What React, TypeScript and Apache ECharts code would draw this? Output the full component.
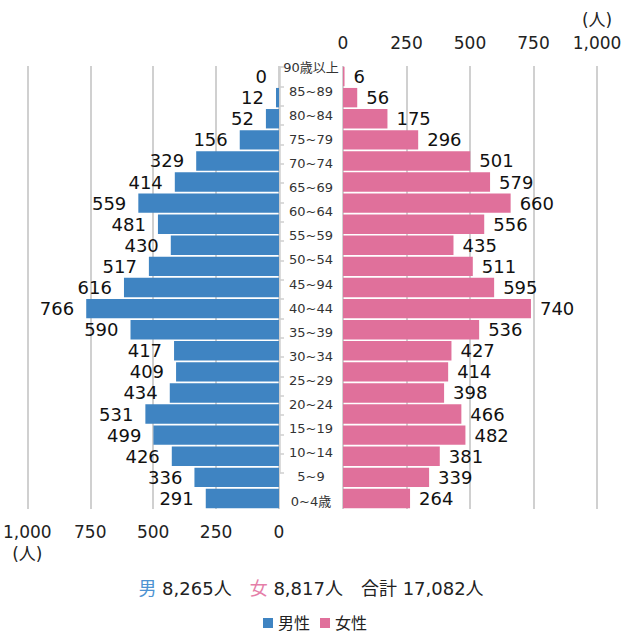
import React, { useEffect, useRef } from "react";
import * as echarts from "echarts";

// Age group labels shown in the centre column (top to bottom)
const ageLabels = [
  "90歳以上", "85~89", "80~84", "75~79", "70~74", "65~69", "60~64", "55~59",
  "50~54", "45~94", "40~44", "35~39", "30~34", "25~29", "20~24", "15~19",
  "10~14", "5~9", "0~4歳",
];

// Bar values, top to bottom
const maleValues = [
  0, 12, 52, 156, 329, 414, 559, 481, 430, 517, 616, 766, 590, 417, 409, 434,
  531, 499, 426, 336, 291,
];
const femaleValues = [
  6, 56, 175, 296, 501, 579, 660, 556, 435, 511, 595, 740, 536, 427, 414, 398,
  466, 482, 381, 339, 264,
];

const axisTicks = [0, 250, 500, 750, 1000];
const seriesNames = ["男性", "女性"];
const totals = { male: "8,265", female: "8,817", all: "17,082" };

const BLUE = "#3f84c2";
const PINK = "#e0709b";
const FONT = "'DejaVu Sans', 'Noto Sans CJK JP', sans-serif";

export default function App() {
  const ref = useRef<HTMLDivElement>(null);

  useEffect(() => {
    if (!ref.current) return;
    const chart = echarts.init(ref.current, undefined, { renderer: "svg" });
    const barIdx = maleValues.map((_, i) => String(i));
    const fmt = (v: number) => (v === 1000 ? "1,000" : String(v));

    chart.setOption({
      animation: false,
      textStyle: { fontFamily: FONT },
      grid: [
        { left: 25, top: 66, width: 254, height: 443 },
        { left: 343, top: 66, width: 254, height: 443 },
        { left: 280, top: 67, width: 10, height: 406 },
        { left: 311, top: 67, width: 10, height: 434 },
      ],
      xAxis: [
        {
          gridIndex: 0,
          type: "value",
          min: axisTicks[0],
          max: axisTicks[axisTicks.length - 1],
          interval: 250,
          inverse: true,
          position: "bottom",
          axisLine: { show: false },
          axisTick: { show: false },
          splitLine: { lineStyle: { color: "#d0d0d0", width: 2 } },
          axisLabel: {
            margin: 12,
            fontSize: 17,
            lineHeight: 22,
            color: "#222",
            formatter: (v: number) => (v === 1000 ? "1,000\n(人)" : fmt(v)),
          },
        },
        {
          gridIndex: 1,
          type: "value",
          min: axisTicks[0],
          max: axisTicks[axisTicks.length - 1],
          interval: 250,
          position: "top",
          axisLine: { show: false },
          axisTick: { show: false },
          splitLine: { lineStyle: { color: "#d0d0d0", width: 2 } },
          axisLabel: {
            margin: 12,
            fontSize: 17,
            lineHeight: 23,
            color: "#222",
            formatter: (v: number) => (v === 1000 ? "(人)\n1,000" : fmt(v)),
          },
        },
        { gridIndex: 2, type: "value", show: false },
        { gridIndex: 3, type: "value", show: false },
      ],
      yAxis: [
        { gridIndex: 0, type: "category", data: barIdx, inverse: true, show: false },
        { gridIndex: 1, type: "category", data: barIdx, inverse: true, show: false },
        {
          gridIndex: 2,
          type: "category",
          data: barIdx,
          inverse: true,
          position: "left",
          axisLine: { show: true, lineStyle: { color: "#cfcfcf", width: 1.5 } },
          axisTick: { show: true, inside: true, length: 4, lineStyle: { color: "#cfcfcf", width: 1.5 } },
          axisLabel: { show: false },
          splitLine: { show: false },
        },
        {
          gridIndex: 3,
          type: "category",
          data: ageLabels,
          inverse: true,
          boundaryGap: false,
          position: "left",
          axisLine: { show: false },
          axisTick: { show: false },
          splitLine: { show: false },
          axisLabel: {
            margin: 0,
            align: "center",
            fontSize: 13,
            lineHeight: 16,
            color: "#333",
            interval: 0,
          },
        },
      ],
      legend: {
        data: seriesNames,
        top: 609,
        left: "center",
        icon: "rect",
        itemWidth: 10,
        itemHeight: 10,
        itemGap: 10,
        textStyle: { fontSize: 16, lineHeight: 18, color: "#222" },
      },
      graphic: [
        {
          type: "text",
          x: 311,
          y: 588,
          style: {
            text: `{m|男} ${totals.male}人　{f|女} ${totals.female}人　合計 ${totals.all}人`,
            font: `18px ${FONT}`,
            fill: "#222",
            align: "center",
            verticalAlign: "middle",
            rich: {
              m: { fill: "#4d93d2", font: `18px ${FONT}` },
              f: { fill: "#e57ea8", font: `18px ${FONT}` },
            },
          },
        },
      ],
      series: [
        {
          name: seriesNames[0],
          type: "bar",
          xAxisIndex: 0,
          yAxisIndex: 0,
          data: maleValues,
          barCategoryGap: "8%",
          itemStyle: { color: BLUE },
          label: {
            show: true,
            position: "left",
            distance: 12,
            fontSize: 18,
            lineHeight: 18,
            color: "#111",
          },
        },
        {
          name: seriesNames[1],
          type: "bar",
          xAxisIndex: 1,
          yAxisIndex: 1,
          data: femaleValues,
          barCategoryGap: "8%",
          itemStyle: { color: PINK },
          label: {
            show: true,
            position: "right",
            distance: 9,
            fontSize: 18,
            lineHeight: 18,
            color: "#111",
          },
        },
      ],
    });

    return () => chart.dispose();
  }, []);

  return (
    <div
      ref={ref}
      style={{ position: "absolute", left: 0, top: 0, width: 630, height: 631 }}
    />
  );
}
